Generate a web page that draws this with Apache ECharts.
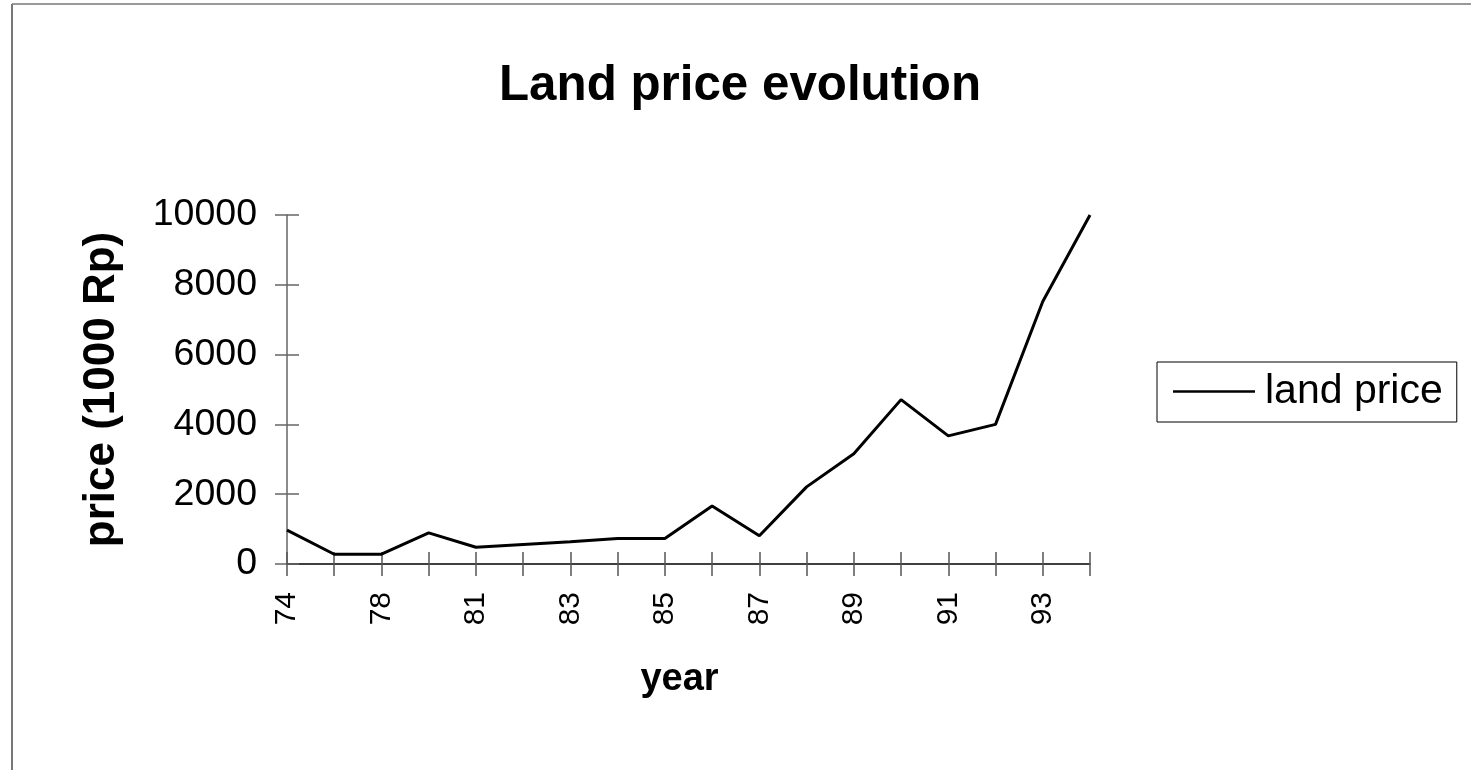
<!DOCTYPE html>
<html>
<head>
<meta charset="utf-8">
<title>Land price evolution</title>
<script src="https://cdn.jsdelivr.net/npm/echarts@6/dist/echarts.min.js"></script>
<style>
  html, body { margin: 0; padding: 0; background: #fff; }
  #chart { width: 1471px; height: 770px; }
</style>
</head>
<body>
<div id="chart"></div>
<script>
  // data
  var years = ['74', '76', '78', '80', '81', '82', '83', '84', '85', '86', '87', '88', '89', '90', '91', '92', '93', '94'];
  var landPrice = [970, 280, 280, 890, 480, 560, 640, 730, 730, 1660, 810, 2210, 3160, 4710, 3670, 4000, 7520, 10000];
  var yTicks = { min: 0, max: 10000, step: 2000 };

  var font = 'Arial, "Liberation Sans", sans-serif';
  var myChart = echarts.init(document.getElementById('chart'));

  myChart.setOption({
    animation: false,
    backgroundColor: '#fff',
    textStyle: { fontFamily: font },
    title: {
      text: 'Land price evolution',
      left: 494,
      top: 57,
      textStyle: { fontSize: 49.3, fontWeight: 'bold', color: '#000', fontFamily: font }
    },
    legend: {
      left: 1157,
      top: 362,
      orient: 'vertical',
      padding: [9, 14, 10, 16],
      borderColor: '#000',
      borderWidth: 1,
      borderRadius: 0,
      icon: 'rect',
      itemWidth: 82,
      itemHeight: 2.5,
      itemGap: 0,
      textStyle: { fontSize: 41, color: '#000', fontFamily: font, padding: [0, 0, 0, 5] },
      data: ['land price']
    },
    graphic: [
      // outer frame of the picture
      { type: 'line', shape: { x1: 12, y1: 4, x2: 1471, y2: 4 }, style: { stroke: '#999', lineWidth: 2 } },
      { type: 'line', shape: { x1: 12, y1: 4, x2: 12, y2: 770 }, style: { stroke: '#777', lineWidth: 2 } }
    ],
    grid: { left: 287, right: 381, top: 215, bottom: 206, containLabel: false },
    xAxis: [{
      type: 'category',
      data: years,
      boundaryGap: false,
      name: 'year',
      nameLocation: 'middle',
      nameGap: 97,
      nameTextStyle: { fontSize: 38, fontWeight: 'bold', color: '#000', fontFamily: font, padding: [0, 18, 0, 0] },
      axisLine: { lineStyle: { color: '#000', width: 1.5 } },
      axisTick: { show: true, length: 12, interval: 0, lineStyle: { color: '#555', width: 1.5 } },
      axisLabel: { interval: 1, rotate: 90, margin: 28, fontSize: 30, color: '#000', fontFamily: font },
      splitLine: { show: false }
    }, {
      // inner half of the crossing ticks
      type: 'category',
      data: years,
      boundaryGap: false,
      position: 'bottom',
      axisLine: { show: false },
      axisTick: { show: true, inside: true, length: 12, interval: 0, lineStyle: { color: '#555', width: 1.5 } },
      axisLabel: { show: false },
      splitLine: { show: false }
    }],
    yAxis: [{
      type: 'value',
      min: yTicks.min,
      max: yTicks.max,
      interval: yTicks.step,
      name: 'price (1000 Rp)',
      nameLocation: 'middle',
      nameGap: 163,
      nameTextStyle: { fontSize: 44, fontWeight: 'bold', color: '#000', fontFamily: font },
      axisLine: { show: true, lineStyle: { color: '#666', width: 1.5 } },
      axisTick: { show: true, length: 12, lineStyle: { color: '#666', width: 1.5 } },
      axisLabel: {
        margin: 30, fontSize: 37.5, color: '#000', fontFamily: font,
        formatter: function (v) { return String(v); }
      },
      splitLine: { show: false }
    }, {
      type: 'value',
      min: yTicks.min,
      max: yTicks.max,
      interval: yTicks.step,
      position: 'left',
      axisLine: { show: false },
      axisTick: { show: true, inside: true, length: 12, lineStyle: { color: '#666', width: 1.5 } },
      axisLabel: { show: false },
      splitLine: { show: false }
    }],
    series: [{
      name: 'land price',
      type: 'line',
      data: landPrice,
      symbol: 'none',
      lineStyle: { color: '#000', width: 3 },
      itemStyle: { color: '#000' }
    }]
  });
</script>
</body>
</html>
